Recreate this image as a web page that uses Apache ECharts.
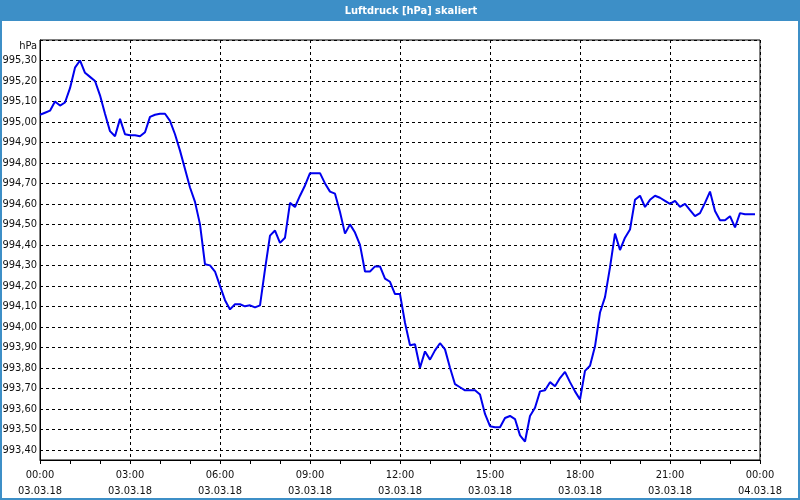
<!DOCTYPE html>
<html><head><meta charset="utf-8">
<script src="https://cdn.jsdelivr.net/npm/echarts@6/dist/echarts.min.js"></script>
<style>html,body{margin:0;padding:0;background:#fff}#c{width:800px;height:500px}</style>
</head><body><div id="c"></div>
<script>
const chartTitle = 'Luftdruck [hPa] skaliert';
const unitLabel = 'hPa';
const stepMinutes = 10; // sampling interval of the series, starting 03.03.18 00:00
const pressure = [
  995.035, 995.045, 995.055, 995.10, 995.08, 995.095,
  995.165, 995.265, 995.30, 995.24, 995.22, 995.20,
  995.13, 995.04, 994.955, 994.93, 995.015, 994.94,
  994.935, 994.935, 994.93, 994.95, 995.025, 995.035,
  995.04, 995.04, 995.005, 994.94, 994.86, 994.77,
  994.68, 994.61, 994.50, 994.305, 994.30, 994.27,
  994.20, 994.13, 994.085, 994.11, 994.11, 994.10,
  994.105, 994.095, 994.105, 994.28, 994.445, 994.47,
  994.41, 994.435, 994.605, 994.585, 994.64, 994.69,
  994.75, 994.75, 994.75, 994.70, 994.66, 994.65,
  994.56, 994.455, 994.50, 994.46, 994.40, 994.27,
  994.27, 994.295, 994.295, 994.235, 994.22, 994.16,
  994.16, 994.02, 993.91, 993.915, 993.80, 993.88,
  993.84, 993.885, 993.92, 993.89, 993.80, 993.72,
  993.705, 993.69, 993.69, 993.69, 993.67, 993.575,
  993.515, 993.51, 993.51, 993.555, 993.565, 993.55,
  993.47, 993.44, 993.565, 993.605, 993.685, 993.69,
  993.73, 993.71, 993.75, 993.78, 993.73, 993.685,
  993.645, 993.785, 993.81, 993.905, 994.07, 994.145,
  994.29, 994.455, 994.375, 994.435, 994.475, 994.62,
  994.64, 994.585, 994.62, 994.64, 994.63, 994.615,
  994.60, 994.615, 994.585, 994.60, 994.57, 994.54,
  994.555, 994.605, 994.66, 994.565, 994.52, 994.52,
  994.54, 994.485, 994.555, 994.55, 994.55, 994.55
];
const xTicks = [0, 3, 6, 9, 12, 15, 18, 21, 24];
const xTickLabels = ['00:00\n03.03.18','03:00\n03.03.18','06:00\n03.03.18','09:00\n03.03.18','12:00\n03.03.18','15:00\n03.03.18','18:00\n03.03.18','21:00\n03.03.18','00:00\n04.03.18'];
const yTicks = [993.40,993.50,993.60,993.70,993.80,993.90,994.00,994.10,994.20,994.30,994.40,994.50,994.60,994.70,994.80,994.90,995.00,995.10,995.20,995.30];

const FONT = '"DejaVu Sans Condensed", "Liberation Sans", sans-serif';
const chart = echarts.init(document.getElementById('c'), null, {renderer: 'canvas'});
const seriesData = pressure.map((v, i) => [i * stepMinutes / 60, v]);

chart.setOption({
  animation: false,
  backgroundColor: '#fff',
  graphic: [
    {type: 'rect', z: 0, shape: {x: 0, y: 0, width: 800, height: 21}, style: {fill: '#3d8fc7'}},
    {type: 'rect', z: 0, shape: {x: 1, y: 1, width: 798, height: 498}, style: {fill: 'none', stroke: '#3d8fc7', lineWidth: 2}},
    {type: 'text', z: 100, x: 411, y: 11, style: {text: chartTitle, fill: '#fff', font: 'bold 11px ' + FONT, textAlign: 'center', textVerticalAlign: 'middle'}},
    {type: 'text', z: 100, x: 37, y: 46, style: {text: unitLabel, fill: '#111', font: '11px ' + FONT, textAlign: 'right', textVerticalAlign: 'middle'}}
  ],
  grid: {left: 40, right: 40, top: 40, bottom: 40, outerBoundsMode: 'none', containLabel: false, show: true, borderColor: '#000', borderWidth: 1, backgroundColor: '#fff'},
  xAxis: {
    type: 'value', min: 0, max: 24, interval: 3,
    axisLine: {show: true, lineStyle: {color: '#000', width: 1}},
    axisTick: {show: true, length: 4, lineStyle: {color: '#000'}},
    minorTick: {show: true, splitNumber: 3, length: 4, lineStyle: {color: '#000'}},
    axisLabel: {
      color: '#111', fontSize: 11, fontFamily: FONT, lineHeight: 16, margin: 7,
      formatter: v => { const i = xTicks.indexOf(Math.round(v)); return i >= 0 ? xTickLabels[i] : ''; }
    },
    splitLine: {show: true, lineStyle: {color: '#000', width: 1, type: [3, 3]}}
  },
  yAxis: {
    type: 'value', min: 993.35, max: 995.40, interval: 0.05,
    axisLine: {show: true, lineStyle: {color: '#000', width: 1}},
    axisTick: {show: false},
    axisLabel: {
      color: '#111', fontSize: 11, fontFamily: FONT, margin: 3,
      formatter: v => {
        const hit = yTicks.find(t => Math.abs(t - v) < 1e-6);
        return hit === undefined ? '' : hit.toFixed(2).replace('.', ',');
      }
    },
    splitLine: {show: true, lineStyle: {color: ['rgba(0,0,0,0)', '#000'], width: 1, type: [3, 3]}}
  },
  series: [{
    type: 'line', data: seriesData, showSymbol: false, symbol: 'none',
    lineStyle: {color: '#0000ee', width: 2}, z: 5
  }]
});
</script></body></html>
